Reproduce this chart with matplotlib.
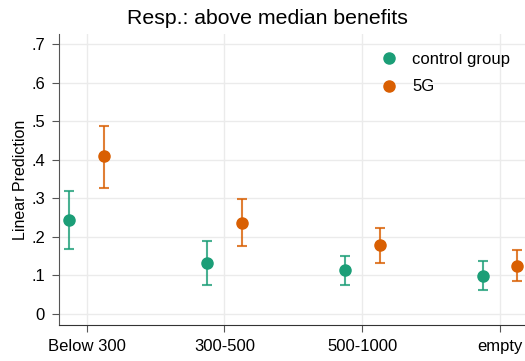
import matplotlib.pyplot as plt
import numpy as np

plt.rcParams['font.family'] = ['Liberation Sans', 'DejaVu Sans']

categories = ['Below 300', '300-500', '500-1000', 'empty']
groups = ['control group', '5G']
colors = ['#1b9e77', '#d95f02']

# point estimates and confidence bounds
control_mean = [0.244, 0.133, 0.113, 0.099]
control_low = [0.169, 0.076, 0.075, 0.062]
control_high = [0.319, 0.189, 0.151, 0.138]
g5_mean = [0.409, 0.237, 0.178, 0.125]
g5_low = [0.326, 0.176, 0.132, 0.085]
g5_high = [0.489, 0.298, 0.224, 0.165]

means = [control_mean, g5_mean]
lows = [control_low, g5_low]
highs = [control_high, g5_high]
offsets = [-0.125, 0.125]

fig = plt.figure(figsize=(5.25, 3.61), dpi=100)
ax = fig.add_axes([59 / 525, 36 / 361, 1 - 59 / 525, (325 - 34) / 361])

x = np.arange(len(categories))
for i in range(2):
    m = np.array(means[i])
    lo = np.array(lows[i])
    hi = np.array(highs[i])
    ax.errorbar(x + offsets[i], m, yerr=[m - lo, hi - m], fmt='none',
                ecolor=colors[i], alpha=0.8, elinewidth=1.5, capsize=3.5, capthick=1.5)
    ax.plot(x + offsets[i], m, 'o', color=colors[i], markersize=8, label=groups[i])

ax.set_xlim(-0.2, 3.18)
ax.set_ylim(-0.029, 0.727)
ax.set_xticks(x)
ax.set_xticklabels(categories, fontsize=12)
yt = [0, 0.1, 0.2, 0.3, 0.4, 0.5, 0.6, 0.7]
ax.set_yticks(yt)
ax.set_yticklabels(['0', '.1', '.2', '.3', '.4', '.5', '.6', '.7'], fontsize=12)
ax.grid(True, color='#ebebeb', linewidth=1)
ax.set_axisbelow(True)
for s in ['top', 'right']:
    ax.spines[s].set_visible(False)
ax.spines['left'].set_color('#555555')
ax.spines['bottom'].set_color('#333333')
ax.tick_params(axis='both', length=5, color='#555555', pad=5)
ax.set_ylabel('Linear Prediction', fontsize=11.5, labelpad=2)
fig.text(267 / 525, 1 - 19 / 361, 'Resp.: above median benefits', fontsize=15.3,
         ha='center', va='center')

leg = ax.legend(loc='upper right', bbox_to_anchor=(1.0, 0.99), frameon=False,
                fontsize=12, handletextpad=0.8, labelspacing=0.75, handlelength=1.2)

fig.savefig('out.png', dpi=100)
